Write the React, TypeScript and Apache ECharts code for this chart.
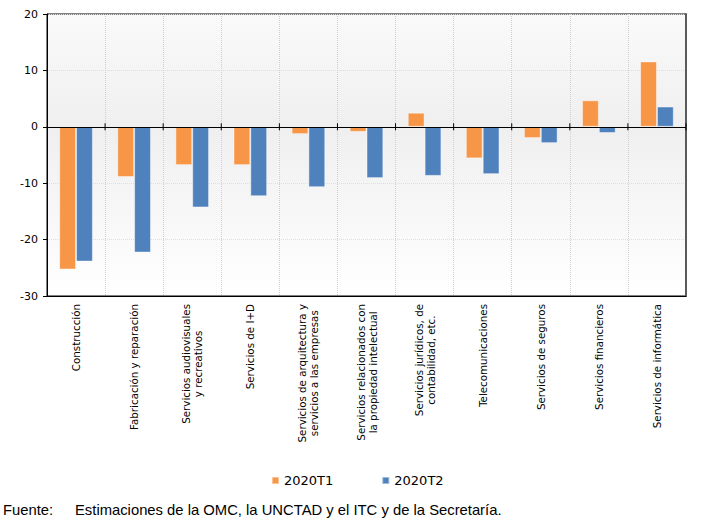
import React, { useEffect, useRef } from "react";
import * as echarts from "echarts";

const categories = [
  "Construcción",
  "Fabricación y reparación",
  "Servicios audiovisuales\ny recreativos",
  "Servicios de I+D",
  "Servicios de arquitectura y\nservicios a las empresas",
  "Servicios relacionados con\nla propiedad intelectual",
  "Servicios jurídicos, de\ncontabilidad, etc.",
  "Telecomunicaciones",
  "Servicios de seguros",
  "Servicios financieros",
  "Servicios de informática",
];

const seriesNames = ["2020T1", "2020T2"];
const values2020T1 = [-25.3, -8.9, -6.8, -6.8, -1.3, -0.9, 2.5, -5.6, -2.0, 4.7, 11.6];
const values2020T2 = [-23.9, -22.3, -14.3, -12.3, -10.7, -9.1, -8.7, -8.4, -2.9, -1.1, 3.6];

const yMin = -30;
const yMax = 20;
const yInterval = 10;

const sourceLabel = "Fuente:";
const sourceText = "Estimaciones de la OMC, la UNCTAD y el ITC y de la Secretaría.";

export default function App() {
  const ref = useRef<HTMLDivElement>(null);

  useEffect(() => {
    if (!ref.current) return;
    const chart = echarts.init(ref.current, null, { renderer: "svg" });
    const font = "DejaVu Sans";
    const n = categories.length;

    const footer: any[] = [
      {
        id: "src-label",
        type: "text",
        left: 3,
        top: 502,
        style: {
          text: sourceLabel,
          fontFamily: "Liberation Sans",
          fontSize: 14.8,
          fill: "#000000",
        },
      },
      {
        id: "src-text",
        type: "text",
        left: 75,
        top: 502,
        style: {
          text: sourceText,
          fontFamily: "Liberation Sans",
          fontSize: 14.8,
          fill: "#000000",
        },
      },
    ];

    const option: any = {
      animation: false,
      backgroundColor: "#ffffff",
      textStyle: { fontFamily: font },
      grid: {
        left: 47,
        top: 14,
        right: 19,
        bottom: 230,
        show: true,
        borderColor: "#000000",
        borderWidth: 1,
        backgroundColor: {
          type: "linear",
          x: 0,
          y: 0,
          x2: 0,
          y2: 1,
          colorStops: [
            { offset: 0, color: "#fafafa" },
            { offset: 0.4, color: "#efefef" },
            { offset: 1, color: "#ffffff" },
          ],
        },
      },
      legend: {
        data: seriesNames,
        left: 271,
        top: 474,
        padding: 0,
        icon: "rect",
        itemWidth: 7,
        itemHeight: 7,
        itemGap: 48,
        textStyle: { fontFamily: font, fontSize: 13, color: "#000000" },
      },
      xAxis: [
        {
          type: "category",
          data: categories,
          position: "bottom",
          axisLine: { onZero: false, lineStyle: { color: "#000000", width: 1 } },
          axisTick: { show: false },
          splitLine: {
            show: true,
            interval: 0,
            lineStyle: { color: "#cfcfcf", type: "dotted", width: 1 },
          },
          axisLabel: {
            rotate: 90,
            margin: 8,
            interval: 0,
            fontFamily: font,
            fontSize: 10.3,
            color: "#000000",
            lineHeight: 12,
            formatter: (v: string) =>
              v
                .split("\n")
                .map((l) => `{c|${l}}`)
                .join("\n"),
            rich: {
              c: {
                align: "center",
                fontFamily: font,
                fontSize: 10.3,
                lineHeight: 12,
                color: "#000000",
              },
            },
          },
        },
      ],
      yAxis: [
        {
          type: "value",
          min: yMin,
          max: yMax,
          interval: yInterval,
          position: "left",
          axisLine: { show: true, lineStyle: { color: "#000000", width: 1 } },
          axisTick: { show: true, length: 4, lineStyle: { color: "#000000" } },
          axisLabel: {
            margin: 9,
            fontFamily: font,
            fontSize: 11,
            color: "#000000",
          },
          splitLine: {
            show: true,
            lineStyle: { color: "#dedede", type: "dotted", width: 1 },
          },
        },
        {
          type: "value",
          min: yMin,
          max: yMax,
          interval: yInterval,
          position: "right",
          axisLine: { show: true, lineStyle: { color: "#5a5a5a", width: 2 } },
          axisTick: { show: false },
          axisLabel: { show: false },
          splitLine: { show: false },
        },
      ],
      series: [
        {
          name: seriesNames[0],
          type: "bar",
          xAxisIndex: 0,
          yAxisIndex: 0,
          data: values2020T1,
          barGap: "0%",
          barCategoryGap: "42%",
          itemStyle: {
            color: "#F79646",
            borderColor: "rgba(255,255,255,0.45)",
            borderWidth: 1,
          },
          markLine: {
            silent: true,
            symbol: "none",
            label: { show: false },
            lineStyle: { color: "#000000", width: 1, type: "solid" },
            data: [{ yAxis: 0 }],
            z: 5,
          },
        },
        {
          name: seriesNames[1],
          type: "bar",
          xAxisIndex: 0,
          yAxisIndex: 0,
          data: values2020T2,
          barGap: "0%",
          barCategoryGap: "42%",
          itemStyle: {
            color: "#4F81BD",
            borderColor: "rgba(255,255,255,0.45)",
            borderWidth: 1,
          },
        },
      ],
      graphic: footer,
    };

    chart.setOption(option);

    // Zero-line tick marks at category boundaries, placed via the chart's own scales.
    const centers = categories.map(
      (_, i) => chart.convertToPixel({ xAxisIndex: 0 }, i) as number
    );
    const zeroY = chart.convertToPixel({ yAxisIndex: 0 }, 0) as number;
    const bounds: number[] = [];
    for (let i = 1; i < n; i++) bounds.push((centers[i - 1] + centers[i]) / 2);
    if (n > 1) bounds.push(centers[n - 1] + (centers[n - 1] - centers[n - 2]) / 2);
    const ticks = bounds.map((x, k) => ({
      id: "zt" + k,
      type: "line",
      z: 100,
      silent: true,
      shape: { x1: x, y1: zeroY - 3.5, x2: x, y2: zeroY + 3.5 },
      style: { stroke: "#000000", lineWidth: 1 },
    }));
    chart.setOption({ graphic: [...footer, ...ticks] });

    return () => chart.dispose();
  }, []);

  return (
    <div
      ref={ref}
      style={{
        position: "absolute",
        left: 0,
        top: 0,
        width: 705,
        height: 526,
        background: "#ffffff",
      }}
    />
  );
}
